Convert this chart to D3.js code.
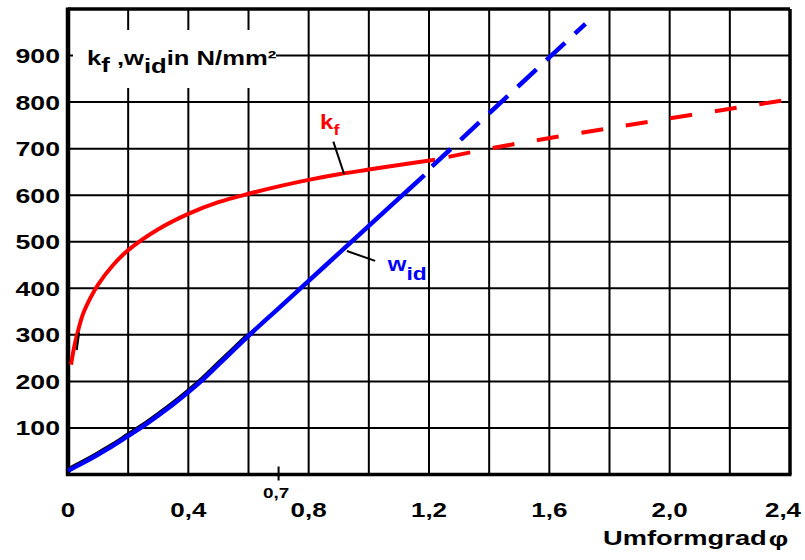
<!DOCTYPE html>
<html>
<head>
<meta charset="utf-8">
<script src="https://cdn.jsdelivr.net/npm/d3@7"></script>
<style>
  html, body { margin: 0; padding: 0; background: #fff; }
  svg { display: block; }
  text { font-family: "Liberation Sans", Arial, sans-serif; font-weight: bold; }
</style>
</head>
<body>
<svg id="chart" width="805" height="560"></svg>
<script>
// Umformgrad (phi) axis
const phiGrid = [0.2, 0.4, 0.6, 0.8, 1.0, 1.2, 1.4, 1.6, 1.8, 2.0, 2.2];
const phiTicks = [0, 0.4, 0.8, 1.2, 1.6, 2.0, 2.4];
const phiTickLabels = ["0", "0,4", "0,8", "1,2", "1,6", "2,0", "2,4"];
const phiMarker = 0.7;
const phiMarkerLabel = "0,7";

// stress axis (N/mm²)
const stressTicks = [100, 200, 300, 400, 500, 600, 700, 800, 900];
const stressTickLabels = ["100", "200", "300", "400", "500", "600", "700", "800", "900"];

// flow stress k_f — measured part
const kfPhi = [0.01, 0.02, 0.03, 0.05, 0.075, 0.1, 0.15, 0.2, 0.3, 0.4, 0.5, 0.6, 0.7, 0.8, 0.9, 1.0, 1.1, 1.22];
const kfVal = [236, 272, 300, 345, 380, 408, 450, 482, 527, 560, 585, 603, 619, 633, 645, 655, 665, 676];
// flow stress k_f — extrapolated
const kfExtPhi = [1.22, 1.4, 1.8, 2.4];
const kfExtVal = [676, 700, 744, 806];

// ideal forming work w_id — measured part
const widPhi = [0, 0.05, 0.1, 0.15, 0.2, 0.25, 0.3, 0.35, 0.4, 0.45, 0.5, 0.6, 0.7, 0.8, 0.9, 1.0, 1.1, 1.185];
const widVal = [8, 25, 43, 62, 83, 104, 127, 151, 177, 205, 236, 298, 357, 416, 475, 534, 593, 643];
// ideal forming work w_id — extrapolated
const widExtPhi = [1.21, 1.72];
const widExtVal = [662, 968];

const svg = d3.select("#chart");
const x = d3.scaleLinear().domain([0, 2.4]).range([68, 790]);
const y = d3.scaleLinear().domain([0, 1000]).range([474.5, 9]);
const SX = 1.3; // horizontal stretch of lettering

const zip = (a, b) => a.map((v, i) => [v, b[i]]);
const line = d3.line().x(d => x(d[0])).y(d => y(d[1])).curve(d3.curveCatmullRom.alpha(0.5));

// grid
const grid = svg.append("g");
grid.selectAll("line.v").data(phiGrid).join("line")
  .attr("x1", d => x(d)).attr("x2", d => x(d))
  .attr("y1", y(1000)).attr("y2", y(0))
  .attr("stroke", "#000").attr("stroke-width", 2);
grid.selectAll("line.h").data(stressTicks).join("line")
  .attr("x1", x(0)).attr("x2", x(2.4))
  .attr("y1", d => y(d)).attr("y2", d => y(d))
  .attr("stroke", "#000").attr("stroke-width", 2);

// white panel behind the quantity label
svg.append("rect")
  .attr("x", 73).attr("y", 30).attr("width", 203).attr("height", 58)
  .attr("fill", "#fff");

// frame
svg.append("line").attr("x1", x(0)).attr("x2", x(2.4)).attr("y1", y(1000)).attr("y2", y(1000))
  .attr("stroke", "#000").attr("stroke-width", 3.5);
svg.append("line").attr("x1", x(2.4)).attr("x2", x(2.4)).attr("y1", y(1000)).attr("y2", y(0))
  .attr("stroke", "#000").attr("stroke-width", 3.5);
svg.append("line").attr("x1", x(0) - 2).attr("x2", x(2.4) + 1.5).attr("y1", y(0)).attr("y2", y(0))
  .attr("stroke", "#000").attr("stroke-width", 3.5);
svg.append("line").attr("x1", x(0)).attr("x2", x(0)).attr("y1", y(1000) - 1.5).attr("y2", y(0) + 1.5)
  .attr("stroke", "#000").attr("stroke-width", 4.5);

// small marker at phi = 0.7
svg.append("line").attr("x1", x(phiMarker)).attr("x2", x(phiMarker))
  .attr("y1", y(0) - 8).attr("y2", y(0) + 6)
  .attr("stroke", "#000").attr("stroke-width", 2);

function label(tx, ty, str, size, anchor, sx) {
  return svg.append("text")
    .attr("transform", `translate(${tx},${ty}) scale(${sx || SX},1)`)
    .attr("text-anchor", anchor || "start")
    .attr("font-size", size)
    .attr("fill", "#000")
    .text(str);
}

// y tick labels
stressTicks.forEach((v, i) => {
  label(60, y(v) + 7.5, stressTickLabels[i], 20.5, "end");
});
// x tick labels
phiTicks.forEach((v, i) => {
  const cx = Math.min(x(v), 783);
  label(cx, 517, phiTickLabels[i], 20, "middle");
});
label(x(phiMarker) - 2.5, 498, phiMarkerLabel, 14.5, "middle");

// axis title
const title = svg.append("text")
  .attr("transform", "translate(603,545) scale(1.3,1)")
  .attr("font-size", 21).attr("fill", "#000");
title.append("tspan").text("Umformgrad");
title.append("tspan").attr("dx", 1.5).attr("dy", 1).attr("font-size", 21).text("φ");

// quantity label
const q = svg.append("text")
  .attr("transform", `translate(87,65) scale(1.22,1)`)
  .attr("font-size", 21);
q.append("tspan").text("k");
q.append("tspan").attr("dy", 7).text("f");
q.append("tspan").attr("dy", -7).text(" ,w");
q.append("tspan").attr("dy", 8).text("id");
q.append("tspan").attr("dy", -8).text("in N/mm²");

// w_id: dark edge along the lower part of the curve
svg.append("path")
  .datum(zip(widPhi, widVal).filter(d => d[0] <= 0.62))
  .attr("d", line)
  .attr("transform", "translate(-0.6,-1.1)")
  .attr("fill", "none").attr("stroke", "#000").attr("stroke-width", 4);

// curves
svg.append("path").datum(zip(kfExtPhi, kfExtVal)).attr("d", line)
  .attr("fill", "none").attr("stroke", "#ff0000").attr("stroke-width", 4)
  .attr("stroke-dasharray", "22,23").attr("stroke-dashoffset", -14);
svg.append("path").datum(zip(kfPhi, kfVal)).attr("d", line)
  .attr("fill", "none").attr("stroke", "#ff0000").attr("stroke-width", 4);
svg.append("path").datum(zip(widExtPhi, widExtVal)).attr("d", line)
  .attr("fill", "none").attr("stroke", "#0000ff").attr("stroke-width", 4.5)
  .attr("stroke-dasharray", "25.5,13.5");
svg.append("path").datum(zip(widPhi, widVal)).attr("d", line)
  .attr("fill", "none").attr("stroke", "#0000ff").attr("stroke-width", 4.5);

// leaders and curve names
const leader = (p, q2) => svg.append("line")
  .attr("x1", x(p[0])).attr("y1", y(p[1])).attr("x2", x(q2[0])).attr("y2", y(q2[1]))
  .attr("stroke", "#000").attr("stroke-width", 2);
leader([0.882, 715], [0.918, 645]);
leader([0.927, 480], [1.021, 459]);
leader([0.037, 305], [0.029, 267]);

const kfName = svg.append("text")
  .attr("transform", `translate(${x(0.838)},${y(742)}) scale(1.2,1)`)
  .attr("font-size", 20).attr("fill", "#ff0000");
kfName.append("tspan").text("k");
kfName.append("tspan").attr("dy", 6).attr("font-size", 15).text("f");

const widName = svg.append("text")
  .attr("transform", `translate(${x(1.063)},${y(437)}) scale(1.2,1)`)
  .attr("font-size", 20).attr("fill", "#0000ff");
widName.append("tspan").text("w");
widName.append("tspan").attr("dy", 9).attr("font-size", 19).text("id");
</script>
</body>
</html>
